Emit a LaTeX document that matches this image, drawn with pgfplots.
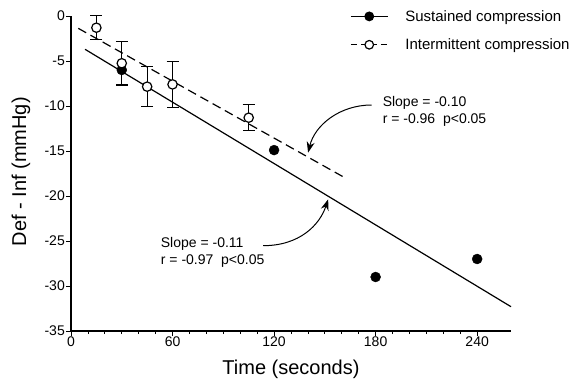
\documentclass[border=0pt]{standalone}
\usepackage{pgfplots}
\pgfplotsset{compat=1.18}
\usepackage{fontspec}
\setmainfont{Liberation Sans}
\usetikzlibrary{arrows.meta}
\begin{document}
\begin{tikzpicture}
\useasboundingbox (0,0) rectangle (573pt,380pt);
\begin{axis}[
 at={(71pt,49pt)}, anchor=south west,
 scale only axis, width=440pt, height=315pt,
 xmin=0, xmax=260, ymin=-35, ymax=0,
 axis x line*=bottom, axis y line*=left,
 axis line style={line width=1.2pt},
 xtick={0,60,120,180,240}, minor x tick num=5,
 ytick={-35,-30,-25,-20,-15,-10,-5,0},
 yticklabels={-35,-30,-25,-20,-15,-10,-5,0},
 tick align=outside, major tick length=5pt, minor tick length=3pt,
 every tick/.style={black, line width=0.8pt},
 ticklabel style={font=\fontsize{14}{14}\selectfont, inner sep=1pt},
 /pgf/number format/assume math mode=true,
 xlabel={Time (seconds)}, ylabel={Def - Inf (mmHg)},
 label style={font=\fontsize{20}{20}\selectfont},
 xlabel style={at={(axis description cs:0.5,-0.1206)}, anchor=center},
 ylabel style={at={(axis description cs:-0.1136,0.5057)}, anchor=center},
 clip=false,
 legend style={draw=none, fill=none, at={(axis description cs:0.634,1.019)}, anchor=north west,
   font=\fontsize{15}{15}\selectfont, inner sep=0pt, row sep=16pt, column sep=17pt,
   nodes={inner sep=0pt}, cells={anchor=west}},
 legend image code/.code={\draw[mark repeat=2,mark phase=2,#1] plot coordinates {(0pt,0pt)(18.5pt,0pt)(37pt,0pt)};},
]
\addlegendimage{black, line width=1.2pt, mark=*, mark size=4.3pt, mark options={solid}}
\addlegendentry{Sustained compression}
\addlegendimage{black, line width=1.2pt, dash pattern=on 6pt off 4pt, mark=*, mark size=4.3pt, mark options={solid, fill=white, draw=black}}
\addlegendentry{Intermittent compression}

\addplot[black, line width=1.2pt, forget plot] coordinates {(8.3,-3.7)(260,-32.3)};
\addplot[black, line width=1.2pt, dash pattern=on 9pt off 5pt, forget plot] coordinates {(4.3,-1.37)(161.8,-17.97)};

\addplot[only marks, mark=*, mark size=5pt, black, forget plot,
  error bars/.cd, y dir=minus, y explicit, error mark=-,
  error mark options={rotate=90, mark size=6pt, line width=0.8pt, black},
  error bar style={line width=0.8pt, black}]
 table[x=x, y=y, y error=e] {
x y e
30 -6.0 1.7
};
\addplot[only marks, mark=*, mark size=5pt, black, forget plot] table[x=x, y=y] {
x y
120 -14.9
180 -29.0
240 -27.0
};
\addplot[only marks, mark=*, mark size=4.7pt, black, mark options={fill=white, draw=black, line width=1.2pt}, forget plot,
  error bars/.cd, y dir=both, y explicit, error mark=-,
  error mark options={rotate=90, mark size=6pt, line width=0.8pt, black},
  error bar style={line width=0.8pt, black}]
 table[x=x, y=y, y error=e] {
x y e
15 -1.3 1.35
30 -5.25 2.4
45 -7.85 2.25
60 -7.6 2.6
105 -11.3 1.45
};

\draw[line width=1pt, -{Stealth[length=11pt,width=8pt]}] (axis cs:177.6,-9.89) .. controls (axis cs:158.9,-9.89) and (axis cs:144.1,-12.1) .. (axis cs:140.1,-15.19);
\draw[line width=1pt, -{Stealth[length=11pt,width=8pt]}] (axis cs:113.6,-25.52) .. controls (axis cs:135.2,-25.52) and (axis cs:147.0,-23.2) .. (axis cs:151.95,-20.37);

\node[anchor=west, align=left, inner sep=0pt, font=\fontsize{14}{16.7}\selectfont] at (axis cs:184.1,-10.63) {Slope = -0.10\\r = -0.96\ \ p<0.05};
\node[anchor=west, align=left, inner sep=0pt, font=\fontsize{14}{16.7}\selectfont] at (axis cs:53.0,-26.3) {Slope = -0.11\\r = -0.97\ \ p<0.05};
\end{axis}
\end{tikzpicture}
\end{document}
